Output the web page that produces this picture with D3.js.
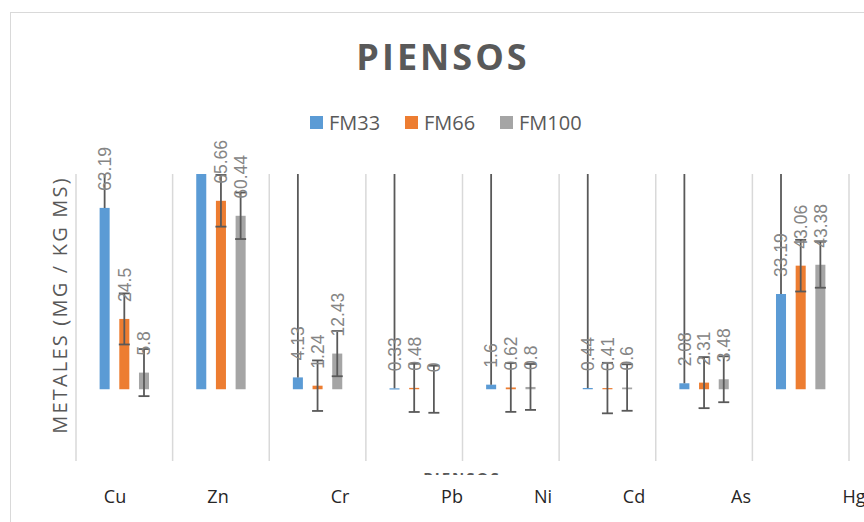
<!DOCTYPE html>
<html>
<head>
<meta charset="utf-8">
<script src="https://cdn.jsdelivr.net/npm/d3@7"></script>
<style>
  html, body { margin: 0; padding: 0; background: #fff; overflow: hidden; }
  svg { display: block; }
</style>
</head>
<body>
<div id="chart"></div>
<script>
// Chart data
const categories = ["Cu", "Zn", "Cr", "Pb", "Ni", "Cd", "As", "Hg"];
const seriesNames = ["FM33", "FM66", "FM100"];
const fm33 = [63.19, 85, 4.13, 0.33, 1.6, 0.44, 2.08, 33.19];
const fm66 = [24.5, 65.66, 1.24, 0.48, 0.62, 0.41, 2.31, 43.06];
const fm100 = [5.8, 60.44, 12.43, 0, 0.8, 0.6, 3.48, 43.38];
// error bars: FM33 only goes up (runs off the chart), the others are symmetric
const fm33ErrPlus = [100, 100, 100, 100, 100, 100, 100, 100];
const fm66Err = [8.9, 9.0, 8.8, 8.4, 8.5, 8.8, 8.9, 9.0];
const fm100Err = [8.2, 8.1, 7.9, 8.2, 8.0, 8.1, 8.0, 8.0];
const yDomain = [-25, 75];

const width = 864, height = 522;
const plot = { left: 76, right: 849, top: 174, bottom: 461 };
const colors = ["#5b9bd5", "#ed7d31", "#a5a5a5"];

// build rows from the arrays
const values = [fm33, fm66, fm100];
const errPlus = [fm33ErrPlus, fm66Err, fm100Err];
const errMinus = [fm33.map(() => 0), fm66Err, fm100Err];
const bars = [];
categories.forEach((c, i) => {
    seriesNames.forEach((s, j) => {
        bars.push({ cat: c, series: s, idx: j, value: values[j][i], plus: errPlus[j][i], minus: errMinus[j][i] });
    });
});

const svg = d3.select("#chart").append("svg")
    .attr("width", width)
    .attr("height", height);

// chart area border
svg.append("rect")
    .attr("x", 10.5).attr("y", 12.5)
    .attr("width", 900).attr("height", 600)
    .attr("fill", "#fff")
    .attr("stroke", "#d9d9d9");

// Scales
const x0 = d3.scaleBand().domain(categories).range([plot.left, plot.right]).padding(0);
const x1 = d3.scaleBand().domain(seriesNames)
    .range([x0.bandwidth() / 2 - 24.7, x0.bandwidth() / 2 + 24.7])
    .paddingInner(0.49).paddingOuter(0);
const y = d3.scaleLinear().domain(yDomain).range([plot.bottom, plot.top]);
// tick labels sit where the original put them
const xLabel = d3.scaleOrdinal().domain(categories).range([115, 218, 340, 452, 543, 634, 741, 854]);

// Title
svg.append("text")
    .attr("x", 443).attr("y", 70)
    .attr("text-anchor", "middle")
    .style("font-family", "'Open Sans', sans-serif")
    .style("font-weight", "bold")
    .style("font-size", "36px")
    .style("letter-spacing", "3px")
    .style("fill", "#595959")
    .text("PIENSOS");

// Legend
const legend = svg.append("g").attr("transform", "translate(310,116)");
const legendItem = legend.selectAll("g")
    .data(seriesNames)
    .enter().append("g")
    .attr("transform", (d, i) => `translate(${i * 95},0)`);
legendItem.append("rect")
    .attr("width", 13).attr("height", 13)
    .attr("fill", (d, i) => colors[i]);
legendItem.append("text")
    .attr("x", 19).attr("y", 14)
    .style("font-family", "'Open Sans', sans-serif")
    .style("font-size", "20px")
    .style("fill", "#595959")
    .text(d => d);

// Y axis title
svg.append("text")
    .attr("transform", "translate(67,305) rotate(-90)")
    .attr("text-anchor", "middle")
    .style("font-family", "'Open Sans', sans-serif")
    .style("font-size", "20px")
    .style("letter-spacing", "2.2px")
    .style("fill", "#595959")
    .text("METALES (MG / KG MS)");

// Vertical gridlines between categories
const gridX = categories.map(c => x0(c)).concat([plot.right]);
svg.append("g").selectAll("line")
    .data(gridX)
    .enter().append("line")
    .attr("x1", d => d).attr("x2", d => d)
    .attr("y1", plot.top).attr("y2", plot.bottom)
    .attr("stroke", "#d9d9d9")
    .attr("stroke-width", 1.5);

// clip bars and error bars to the plot area
svg.append("defs").append("clipPath").attr("id", "plot-clip")
    .append("rect")
    .attr("x", plot.left).attr("y", plot.top)
    .attr("width", plot.right - plot.left + 20)
    .attr("height", plot.bottom - plot.top);

const plotG = svg.append("g").attr("clip-path", "url(#plot-clip)");

// Bars
plotG.selectAll(".bar")
    .data(bars)
    .enter().append("rect")
    .attr("class", "bar")
    .attr("x", d => x0(d.cat) + x1(d.series))
    .attr("width", x1.bandwidth())
    .attr("y", d => y(Math.max(0, d.value)))
    .attr("height", d => Math.max(Math.abs(y(d.value) - y(0)), d.value > 0 ? 1.2 : 0))
    .attr("fill", d => colors[d.idx]);

// Data labels (rotated), hidden when the bar is off the top of the axis
svg.append("g").selectAll(".val")
    .data(bars.filter(d => d.value <= yDomain[1]))
    .enter().append("text")
    .attr("class", "val")
    .attr("transform", d => `translate(${x0(d.cat) + x1(d.series) + x1.bandwidth() / 2},${y(d.value) - 17}) rotate(-90)`)
    .attr("dy", "0.36em")
    .attr("text-anchor", "start")
    .style("font-family", "'Liberation Sans', Arial, sans-serif")
    .style("font-size", "17.5px")
    .style("fill", "#858585")
    .text(d => String(d.value));

// Error bars
const errG = plotG.append("g").selectAll("g")
    .data(bars)
    .enter().append("g")
    .attr("transform", d => `translate(${x0(d.cat) + x1(d.series) + x1.bandwidth() / 2},0)`)
    .attr("stroke", "#595959")
    .attr("stroke-width", 1.8);
errG.append("line")
    .attr("y1", d => y(d.value - d.minus))
    .attr("y2", d => y(d.value + d.plus));
errG.filter(d => d.minus > 0).append("line")
    .attr("x1", -5.5).attr("x2", 5.5)
    .attr("y1", d => y(d.value - d.minus))
    .attr("y2", d => y(d.value - d.minus));
errG.filter(d => d.plus > 0).append("line")
    .attr("x1", -5.5).attr("x2", 5.5)
    .attr("y1", d => y(d.value + d.plus))
    .attr("y2", d => y(d.value + d.plus));

// X axis title, mostly hidden behind the category labels in the original
svg.append("defs").append("clipPath").attr("id", "xt-clip")
    .append("rect").attr("x", 0).attr("y", 0).attr("width", width).attr("height", 475);
svg.append("text")
    .attr("clip-path", "url(#xt-clip)")
    .attr("x", 462).attr("y", 483)
    .attr("text-anchor", "middle")
    .style("font-family", "'Open Sans', sans-serif")
    .style("font-weight", "bold")
    .style("font-size", "15px")
    .style("letter-spacing", "2px")
    .style("fill", "#595959")
    .text("PIENSOS");

// Category labels
svg.append("g").selectAll(".cat")
    .data(categories)
    .enter().append("text")
    .attr("class", "cat")
    .attr("x", d => xLabel(d))
    .attr("y", 503)
    .attr("text-anchor", "middle")
    .style("font-family", "'Open Sans', sans-serif")
    .style("font-size", "18px")
    .style("fill", "#262626")
    .text(d => d);
</script>
</body>
</html>
